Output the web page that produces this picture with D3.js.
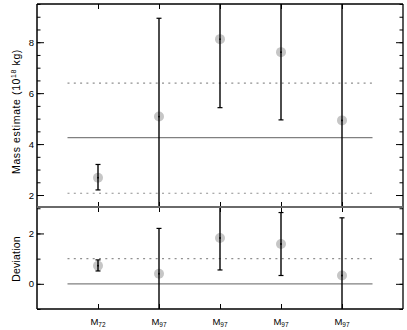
<!DOCTYPE html>
<html><head><meta charset="utf-8">
<script src="https://cdn.jsdelivr.net/npm/d3@7"></script>
<style>body{margin:0;background:#fff}svg{display:block}</style>
</head><body>
<svg id="c" width="407" height="330"></svg>
<script>
const categories = ["M72","M97","M97","M97","M97"];
const catBase = ["M","M","M","M","M"];
const catSub = ["72","97","97","97","97"];
const massValue = [2.68, 5.08, 8.12, 7.61, 4.93];
const massLow   = [2.2, 1.22, 5.43, 4.95, -0.6];
const massHigh  = [3.2, 8.94, 10.8, 10.3, 10.5];
const devValue  = [0.72, 0.40, 1.82, 1.58, 0.33];
const devLow    = [0.51, -1.4, 0.55, 0.33, -2.0];
const devHigh   = [0.95, 2.2, 3.2, 2.83, 2.62];
const massSolidLines = [4.25];
const massDashLines = [2.07, 6.39];
const devSolidLines = [0];
const devDashLines = [1];
const massTicks = [2,4,6,8];
const massMinorTicks = d3.range(2, 9.6, 0.5);
const devTicks = [0,2];
const devMinorTicks = [-1,0,1,2,3];

const svg = d3.select("#c");
const L = 37, R = 403, T = 4, M = 207, B = 309;
const x = d3.scaleLinear().domain([0, 6]).range([L, R]);
const yU = d3.scaleLinear().domain([1.53, 9.5]).range([M, T]);
const yD = d3.scaleLinear().domain([-1, 3.05]).range([B, M]);
const idx = categories.map((d,i)=>i+1);
const font = "Liberation Sans, Arial, Helvetica, sans-serif";

const defs = svg.append("defs");
defs.append("clipPath").attr("id","cu").append("rect").attr("x",L).attr("y",T).attr("width",R-L).attr("height",M-T);
defs.append("clipPath").attr("id","cd").append("rect").attr("x",L).attr("y",M).attr("width",R-L).attr("height",B-M);

function panel(y, clip, solid, dash, val, lo, hi, ticks, minor, top, bottom) {
  const g = svg.append("g").attr("clip-path", `url(#${clip})`);
  g.selectAll(".sl").data(solid).join("line")
    .attr("x1", x(0.5)).attr("x2", x(5.5)).attr("y1", d=>y(d)).attr("y2", d=>y(d))
    .attr("stroke", "#808080").attr("stroke-width", 1.2);
  g.selectAll(".dl").data(dash).join("line")
    .attr("x1", x(0.5)).attr("x2", x(5.5)).attr("y1", d=>y(d)).attr("y2", d=>y(d))
    .attr("stroke", "#909090").attr("stroke-width", 1.2).attr("stroke-dasharray", "2,4.3");
  g.selectAll(".pt").data(val).join("circle")
    .attr("cx", (d,i)=>x(idx[i])).attr("cy", d=>y(d)).attr("r", 5).attr("fill", "#c6c6c6");
  g.selectAll(".eb").data(val).join("line")
    .attr("x1", (d,i)=>x(idx[i])).attr("x2", (d,i)=>x(idx[i]))
    .attr("y1", (d,i)=>y(lo[i])).attr("y2", (d,i)=>y(hi[i]))
    .attr("stroke", "#000").attr("stroke-width", 1.4);
  const caps = [];
  val.forEach((d,i)=>{ caps.push([i, lo[i]]); caps.push([i, hi[i]]); });
  g.selectAll(".cap").data(caps).join("line")
    .attr("x1", d=>x(idx[d[0]])-2.5).attr("x2", d=>x(idx[d[0]])+2.5)
    .attr("y1", d=>y(d[1])).attr("y2", d=>y(d[1]))
    .attr("stroke", "#000").attr("stroke-width", 1.2);
  g.selectAll(".ctr").data(val).join("circle")
    .attr("cx", (d,i)=>x(idx[i])).attr("cy", d=>y(d)).attr("r", 0.9).attr("fill", "#000");

  const axL = svg.append("g").attr("transform", `translate(${L},0)`)
    .call(d3.axisLeft(y).tickValues(minor).tickSize(-3.5).tickFormat(""));
  axL.select(".domain").remove();
  const axL2 = svg.append("g").attr("transform", `translate(${L},0)`)
    .call(d3.axisLeft(y).tickValues(ticks).tickSize(-7).tickPadding(3).tickFormat(d3.format("d")));
  axL2.select(".domain").remove();
  axL2.selectAll("text").attr("font-family", font).attr("font-size", 9.5).attr("fill", "#000");
  const axR = svg.append("g").attr("transform", `translate(${R},0)`)
    .call(d3.axisRight(y).tickValues(minor).tickSize(-3.5).tickFormat(""));
  axR.select(".domain").remove();
  const axR2 = svg.append("g").attr("transform", `translate(${R},0)`)
    .call(d3.axisRight(y).tickValues(ticks).tickSize(-7).tickFormat(""));
  axR2.select(".domain").remove();
  const axT = svg.append("g").attr("transform", `translate(0,${top})`)
    .call(d3.axisTop(x).tickValues(idx).tickSize(-5).tickFormat(""));
  axT.select(".domain").remove();
  const axB = svg.append("g").attr("transform", `translate(0,${bottom})`)
    .call(d3.axisBottom(x).tickValues(idx).tickSize(-5).tickFormat(""));
  axB.select(".domain").remove();
  svg.selectAll(".tick line").attr("stroke", "#000");
}

panel(yU, "cu", massSolidLines, massDashLines, massValue, massLow, massHigh, massTicks, massMinorTicks, T, M);
panel(yD, "cd", devSolidLines, devDashLines, devValue, devLow, devHigh, devTicks, devMinorTicks, M, B);

const fr = svg.append("g").attr("fill", "none");
fr.append("line").attr("x1", L).attr("x2", R).attr("y1", T).attr("y2", T).attr("stroke", "#000").attr("stroke-width", 1.3);
fr.append("line").attr("x1", L).attr("x2", R).attr("y1", B).attr("y2", B).attr("stroke", "#000").attr("stroke-width", 1.3);
fr.append("line").attr("x1", L).attr("x2", L).attr("y1", T).attr("y2", B).attr("stroke", "#000").attr("stroke-width", 1.5);
fr.append("line").attr("x1", R).attr("x2", R).attr("y1", T).attr("y2", B).attr("stroke", "#000").attr("stroke-width", 1.3);
fr.append("line").attr("x1", L).attr("x2", R).attr("y1", M).attr("y2", M).attr("stroke", "#6a6a6a").attr("stroke-width", 2);

const xl = svg.append("g");
categories.forEach((c,i)=>{
  const t = xl.append("text").attr("x", x(idx[i])).attr("y", 325)
    .attr("text-anchor", "middle").attr("font-family", font).attr("font-size", 9.5).attr("fill", "#000");
  t.append("tspan").text(catBase[i]);
  t.append("tspan").attr("font-size", 6.5).attr("dy", 2).text(catSub[i]);
});

const t1 = svg.append("text").attr("transform", `translate(20,${(T+M)/2+6}) rotate(-90)`)
  .attr("text-anchor", "middle").attr("font-family", font).attr("font-size", 10.5)
  .attr("letter-spacing", 0.6).attr("fill", "#000");
t1.append("tspan").text("Mass estimate (10");
t1.append("tspan").attr("font-size", 7).attr("dy", -4).text("18");
t1.append("tspan").attr("dy", 4).text(" kg)");
svg.append("text").attr("transform", `translate(20,${(M+B)/2+1}) rotate(-90)`)
  .attr("text-anchor", "middle").attr("font-family", font).attr("font-size", 10.5)
  .attr("letter-spacing", 0.2).attr("fill", "#000")
  .text("Deviation");
</script>
</body></html>
